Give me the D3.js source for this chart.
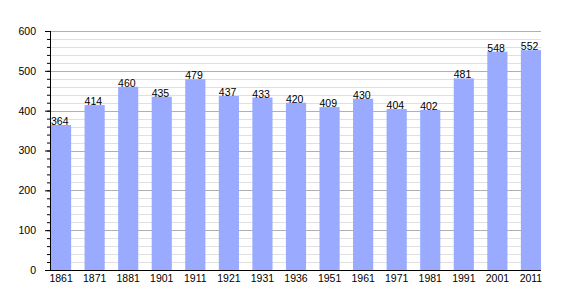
<!DOCTYPE html>
<html>
<head>
<meta charset="utf-8">
<script src="https://cdn.jsdelivr.net/npm/d3@7"></script>
<style>
  body { margin: 0; background: #fff; }
  text { font-family: "Liberation Sans", Arial, sans-serif; }
</style>
</head>
<body>
<div id="chart"></div>
<script>
// data
var years = ["1861","1871","1881","1901","1911","1921","1931","1936","1951","1961","1971","1981","1991","2001","2011"];
var population = [364, 414, 460, 435, 479, 437, 433, 420, 409, 430, 404, 402, 481, 548, 552];
var yTicks = [0, 100, 200, 300, 400, 500, 600];

var margin = {top: 31, right: 29, bottom: 30, left: 50},
    width = 570 - margin.left - margin.right,
    height = 300 - margin.top - margin.bottom;

var svg = d3.select("#chart")
  .append("svg")
    .attr("width", 570)
    .attr("height", 300)
  .append("g")
    .attr("transform", "translate(" + margin.left + "," + margin.top + ")");

var x = d3.scaleBand()
  .domain(years)
  .range([1, width])
  .paddingInner(0.4)
  .paddingOuter(0);

var y = d3.scaleLinear()
  .domain([0, 600])
  .range([height, 0]);

// minor grid lines
svg.append("g")
  .selectAll("line")
  .data(d3.range(0, 601, 20).filter(function (d) { return d % 100 !== 0; }))
  .enter()
  .append("line")
    .attr("x1", 0).attr("x2", width)
    .attr("y1", function (d) { return Math.round(y(d)) + 0.5; })
    .attr("y2", function (d) { return Math.round(y(d)) + 0.5; })
    .attr("stroke", "#e0e0e0");

// major grid lines
svg.append("g")
  .selectAll("line")
  .data(yTicks.slice(1))
  .enter()
  .append("line")
    .attr("x1", 0).attr("x2", width)
    .attr("y1", function (d) { return Math.round(y(d)) + 0.5; })
    .attr("y2", function (d) { return Math.round(y(d)) + 0.5; })
    .attr("stroke", "#b0b0b0");

// bars
svg.append("g")
  .selectAll("rect")
  .data(years)
  .enter()
  .append("rect")
    .attr("x", function (d) { return x(d); })
    .attr("y", function (d, i) { return y(population[i]); })
    .attr("width", x.bandwidth())
    .attr("height", function (d, i) { return height - y(population[i]); })
    .attr("fill", "#99aaff");

// value labels
svg.append("g")
  .selectAll("text")
  .data(years)
  .enter()
  .append("text")
    .attr("x", function (d) { return x(d); })
    .attr("y", function (d, i) { return y(population[i]); })
    .attr("font-size", "10.5px")
    .attr("fill", "#000")
    .text(function (d, i) { return population[i]; });

// Y axis with minor ticks
var yMinor = svg.append("g")
  .call(d3.axisLeft(y).tickValues(d3.range(0, 601, 20)).tickSize(3).tickFormat(""));
yMinor.select(".domain").remove();

var yAxis = svg.append("g")
  .call(d3.axisLeft(y).tickValues(yTicks).tickSize(5).tickPadding(9));
yAxis.select(".domain").attr("d", "M0.5,0V" + height);
yAxis.selectAll("text").attr("font-size", "10.5px").attr("font-family", "Liberation Sans, Arial, sans-serif");

// X axis
var xAxis = svg.append("g")
  .attr("transform", "translate(0," + height + ")")
  .call(d3.axisBottom(x).tickSize(0).tickPadding(5));
xAxis.select(".domain").attr("d", "M0,0.5H" + width);
xAxis.selectAll("text").attr("font-size", "10.5px").attr("font-family", "Liberation Sans, Arial, sans-serif");
</script>
</body>
</html>
